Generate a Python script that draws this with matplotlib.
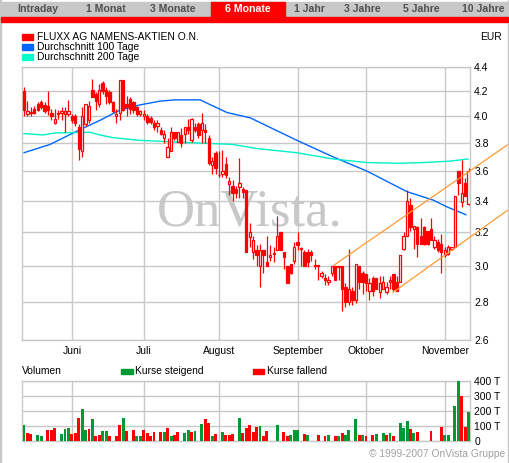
import numpy as np
import pandas as pd
import matplotlib
matplotlib.use("Agg")
import matplotlib.pyplot as plt
from matplotlib.patches import Rectangle
from matplotlib.ticker import NullLocator, FixedLocator, FixedFormatter

plt.rcParams['font.family'] = ['Liberation Sans', 'DejaVu Sans']

# Handelstage 14.05.2007 - 12.11.2007
days = pd.bdate_range('2007-05-14', '2007-11-12')
month_names = ['Juni', 'Juli', 'August', 'September', 'Oktober', 'November']

# Kurse (EUR), pro Handelstag, Monat fuer Monat
opens = [
    4.20, 4.02, 4.03, 4.06, 4.10, 4.11, 4.09, 4.08, 4.03, 3.95, 4.02, 4.03, 4.02, 4.02,
    4.00, 4.00, 3.92, 3.74, 3.94, 3.97, 4.21, 4.18, 4.10, 4.27, 4.21, 4.19, 4.11, 4.00, 4.03, 4.29, 4.10, 4.14, 4.11, 4.07, 4.02,
    4.00, 4.00, 3.99, 3.95, 3.93, 3.90, 3.84, 3.70, 3.74, 3.88, 3.81, 3.86, 3.87, 3.92, 3.82, 3.92, 3.94, 3.90, 3.90, 3.84, 3.64, 3.73,
    3.575, 3.58, 3.65, 3.51, 3.50, 3.48, 3.49, 3.48, 3.47, 3.17, 3.08, 3.09, 3.00, 3.09, 3.02, 3.05, 3.07, 3.09, 3.20, 3.08, 3.00, 3.01, 3.03,
    3.14, 3.10, 3.08, 3.08, 3.08, 3.00, 3.00, 2.94, 2.93, 2.91, 2.96, 3.00, 3.00, 3.00, 2.88, 2.80, 2.86, 2.81, 3.00, 2.96,
    2.95, 2.86, 2.93, 2.93, 2.85, 2.87, 2.85, 2.91, 2.95, 2.91, 2.91, 3.10, 3.18, 3.37, 3.22, 3.23, 3.18, 3.23, 3.21, 3.22, 3.11, 3.14, 3.13,
    3.06, 3.07, 3.10, 3.11, 3.60, 3.39, 3.52, 3.38,
]
highs = [
    4.23, 4.12, 4.07, 4.08, 4.11, 4.13, 4.11, 4.20, 4.06, 4.06, 4.05, 4.07, 4.07, 4.13,
    4.02, 4.02, 3.94, 4.07, 4.10, 4.12, 4.30, 4.19, 4.26, 4.28, 4.23, 4.21, 4.12, 4.06, 4.29, 4.29, 4.16, 4.15, 4.12, 4.08, 4.05,
    4.05, 4.02, 4.00, 3.97, 3.97, 3.92, 3.90, 3.84, 3.92, 3.88, 3.88, 3.91, 3.92, 3.98, 3.99, 3.95, 3.96, 4.03, 3.94, 3.86, 3.70, 3.74,
    3.74, 3.75, 3.70, 3.56, 3.54, 3.50, 3.69, 3.49, 3.47, 3.26, 3.18, 3.12, 3.13, 3.09, 3.18, 3.12, 3.11, 3.30, 3.20, 3.08, 3.00, 3.01, 3.14,
    3.20, 3.11, 3.09, 3.10, 3.09, 3.04, 3.00, 2.97, 2.95, 2.94, 3.00, 3.00, 3.00, 3.00, 2.90, 3.10, 2.88, 3.01, 3.00, 2.97,
    2.95, 2.93, 2.94, 2.93, 2.94, 2.94, 2.91, 2.94, 2.95, 2.94, 3.06, 3.20, 3.47, 3.42, 3.24, 3.24, 3.29, 3.24, 3.21, 3.29, 3.18, 3.16, 3.19,
    3.11, 3.12, 3.11, 3.43, 3.60, 3.68, 3.55, 3.62,
]
lows = [
    4.00, 4.00, 4.00, 4.02, 4.04, 4.06, 4.03, 4.01, 3.97, 3.94, 3.98, 3.97, 3.88, 4.00,
    3.95, 3.93, 3.68, 3.70, 3.93, 3.95, 4.15, 4.05, 4.07, 4.18, 4.10, 4.10, 4.03, 3.95, 3.97, 4.04, 4.00, 4.02, 4.03, 4.00, 4.00,
    3.97, 3.94, 3.94, 3.90, 3.88, 3.86, 3.80, 3.70, 3.74, 3.82, 3.81, 3.77, 3.80, 3.87, 3.81, 3.88, 3.84, 3.80, 3.80, 3.64, 3.58, 3.58,
    3.56, 3.56, 3.55, 3.44, 3.40, 3.42, 3.42, 3.42, 3.08, 3.11, 3.04, 3.00, 2.88, 2.96, 3.00, 3.03, 3.02, 3.09, 3.09, 2.98, 2.90, 2.95, 3.01,
    3.09, 3.00, 3.00, 2.99, 3.03, 2.98, 2.92, 2.93, 2.89, 2.89, 2.94, 2.92, 2.92, 2.75, 2.77, 2.78, 2.78, 2.79, 2.87, 2.84,
    2.86, 2.81, 2.83, 2.87, 2.82, 2.87, 2.84, 2.87, 2.86, 2.86, 2.91, 3.09, 3.18, 3.21, 3.10, 3.05, 3.13, 3.12, 3.12, 3.15, 3.10, 3.08, 2.96,
    3.05, 3.06, 3.09, 3.11, 3.44, 3.36, 3.43, 3.37,
]
closes = [
    4.05, 4.04, 4.03, 4.03, 4.05, 4.07, 4.04, 4.05, 4.00, 3.98, 4.02, 4.04, 4.04, 4.04,
    3.97, 3.95, 3.76, 4.00, 4.10, 4.08, 4.15, 4.12, 4.21, 4.20, 4.16, 4.11, 4.04, 4.02, 4.29, 4.05, 4.07, 4.06, 4.05, 4.02, 4.04,
    4.02, 3.96, 3.96, 3.92, 3.95, 3.87, 3.87, 3.77, 3.88, 3.84, 3.88, 3.80, 3.92, 3.90, 3.98, 3.90, 3.86, 3.95, 3.88, 3.66, 3.67, 3.62,
    3.57, 3.60, 3.57, 3.53, 3.45, 3.45, 3.52, 3.46, 3.08, 3.20, 3.15, 3.06, 3.09, 3.06, 3.00, 3.06, 3.07, 3.18, 3.09, 3.05, 2.90, 2.96, 3.11,
    3.12, 3.10, 3.00, 3.02, 3.06, 3.00, 3.00, 2.96, 2.92, 2.92, 3.00, 2.92, 2.99, 2.87, 2.80, 2.87, 2.81, 3.01, 2.91, 2.91,
    2.90, 2.90, 2.86, 2.87, 2.90, 2.91, 2.88, 2.91, 2.87, 2.86, 3.06, 3.18, 3.40, 3.23, 3.24, 3.13, 3.13, 3.13, 3.13, 3.15, 3.15, 3.09, 3.08,
    3.09, 3.11, 3.11, 3.43, 3.52, 3.45, 3.43, 3.60,
]

# gleitende Durchschnitte, Position in Handelstagen
ma100_day = [0, 7.6, 16.4, 22.2, 28.1, 33.9, 39.8, 44.2, 51.5, 53.8, 59.4, 66.1, 79.8, 90.4, 100.3, 112.0, 119.6, 123.7, 129.2]
ma100_val = [3.73, 3.79, 3.90, 3.97, 4.05, 4.09, 4.12, 4.13, 4.13, 4.10, 4.03, 3.99, 3.82, 3.70, 3.60, 3.46, 3.405, 3.36, 3.31]
ma200_day = [0, 5.6, 9.1, 19.3, 22.2, 26.0, 33.9, 51.5, 61.1, 68.1, 79.8, 90.4, 100.3, 109.1, 116.7, 124.6, 129.8]
ma200_val = [3.87, 3.86, 3.875, 3.88, 3.86, 3.84, 3.82, 3.80, 3.79, 3.76, 3.73, 3.685, 3.66, 3.655, 3.66, 3.67, 3.685]

# Trendkanal
trend_up_day = [90.4, 142.1]
trend_up_val = [3.00, 3.80]
trend_lo_day = [107.9, 142.1]
trend_lo_val = [2.85, 3.35]

# Umsatz in Tausend Stueck
vol_day = [0, 1, 2, 4, 5, 7, 8, 9, 11, 12, 13, 14, 15, 16, 17, 18, 19, 20, 21, 22, 23, 24, 25, 27, 28, 29, 30,
           32, 33, 34, 35, 36, 37, 38, 40, 41, 42, 43, 44, 45, 47, 48, 49, 50, 52, 53, 54, 55, 56, 58, 59, 60,
           61, 63, 64, 65, 66, 67, 68, 69, 70, 71, 74, 76, 77, 78, 79, 80, 82, 83, 86, 88, 89, 91, 92, 93, 94,
           95, 97, 98, 99, 100, 102, 103, 105, 106, 107, 108, 110, 111, 112, 113, 114, 115, 119, 122, 123, 124,
           126, 127, 128, 129, 130]
vol_val = [104, 51, 44, 38, 31, 71, 71, 84, 44, 78, 84, 44, 51, 151, 211, 71, 78, 144, 31, 38, 64, 64, 31, 31, 104, 151, 64,
           71, 36, 31, 71, 51, 31, 58, 58, 58, 84, 31, 38, 58, 51, 71, 58, 64, 111, 144, 118, 31, 44, 58, 38, 38,
           44, 151, 51, 84, 104, 60, 91, 98, 31, 64, 104, 58, 31, 38, 71, 71, 44, 38, 38, 31, 38, 31, 31, 51, 38,
           71, 144, 38, 38, 31, 38, 44, 51, 38, 51, 31, 118, 84, 131, 78, 51, 58, 64, 91, 38, 38,
           231, 398, 300, 91, 191]
vol_up = [1, 0, 0, 1, 1, 0, 0, 0, 1, 1, 1, 0, 0, 0, 1, 1, 0, 1, 0, 0, 1, 1, 0, 0, 0, 1, 0,
          0, 1, 1, 0, 0, 0, 0, 0, 1, 0, 1, 0, 0, 1, 1, 0, 1, 1, 0, 0, 1, 0, 1, 0, 0,
          0, 1, 0, 0, 0, 0, 0, 1, 0, 0, 1, 0, 0, 1, 1, 1, 0, 1, 0, 0, 1, 0, 1, 0, 1,
          1, 1, 0, 1, 0, 0, 1, 1, 0, 1, 0, 1, 1, 1, 0, 1, 0, 0, 0, 1, 1,
          1, 1, 0, 0, 1]

price_ticks = [2.6, 2.8, 3.0, 3.2, 3.4, 3.6, 3.8, 4.0, 4.2, 4.4]
vol_ticks = [0, 100, 200, 300, 400]
tabs = ['Intraday', '1 Monat', '3 Monate', '6 Monate', '1 Jahr', '3 Jahre', '5 Jahre', '10 Jahre']
tab_center = [37.5, 105.5, 173, 248, 309, 362.5, 421.5, 483]

RED = '#ff0000'
GREEN = '#009933'
BLUE = '#0066ff'
CYAN = '#00f0c8'
ORANGE = '#ff9933'
GRID = '#c8c8c8'

W, H = 510, 463


def fx(px):
    return px / W


def fy(py):
    return 1 - py / H


def main():
    fig = plt.figure(figsize=(W / 100, H / 100), dpi=100)

    # Rahmen und Reiter
    fig.patches.append(Rectangle((0, 0), fx(1.5), 1, transform=fig.transFigure, color=GRID, zorder=0))
    fig.patches.append(Rectangle((fx(508.5), 0), fx(1.5), 1, transform=fig.transFigure, color=GRID, zorder=0))
    fig.patches.append(Rectangle((fx(1.5), fy(17)), fx(507), 15 / H, transform=fig.transFigure, color=GRID, zorder=0))
    fig.patches.append(Rectangle((fx(211), fy(17)), fx(74), 15 / H, transform=fig.transFigure, color=RED, zorder=1))
    fig.patches.append(Rectangle((fx(1.5), fy(22)), fx(507), 5 / H, transform=fig.transFigure, color=RED, zorder=1))
    for name, cx in zip(tabs, tab_center):
        active = name == '6 Monate'
        fig.text(fx(cx), fy(9.5), name, ha='center', va='center', fontsize=7.6, fontweight='bold',
                 color='white' if active else '#505050')

    # Legende oben
    for i, (label, col) in enumerate([('FLUXX AG NAMENS-AKTIEN O.N.', RED),
                                      ('Durchschnitt 100 Tage', BLUE),
                                      ('Durchschnitt 200 Tage', '#00ffcc')]):
        yc = 36.5 + i * 10.5
        fig.patches.append(Rectangle((fx(22), fy(yc + 3)), fx(11), 6 / H, transform=fig.transFigure, color=col))
        fig.text(fx(37), fy(yc), label, ha='left', va='center', fontsize=7.4)
    fig.text(fx(502), fy(36.5), 'EUR', ha='right', va='center', fontsize=7.4)

    # Kurschart
    ax = fig.add_axes([fx(22), fy(340), fx(448), 273 / H])
    x = np.arange(len(days))
    o, h, l, c = map(np.array, (opens, highs, lows, closes))
    up = c >= o
    lo = np.minimum(o, c)
    bh = np.maximum(np.abs(c - o), 0.006)

    ax.vlines(x, l, h, color=RED, lw=0.9, zorder=3)
    ax.bar(x[up], bh[up], bottom=lo[up], width=0.68, color='white', edgecolor=RED, lw=0.9, zorder=4)
    ax.bar(x[~up], bh[~up], bottom=lo[~up], width=0.68, color=RED, edgecolor=RED, lw=0.9, zorder=4)

    ax.plot(ma100_day, ma100_val, color=BLUE, lw=1.0, zorder=2)
    ax.plot(ma200_day, ma200_val, color=CYAN, lw=1.0, zorder=2)
    ax.plot(trend_up_day, trend_up_val, color=ORANGE, lw=0.9, zorder=5, clip_on=False)
    ax.plot(trend_lo_day, trend_lo_val, color=ORANGE, lw=0.9, zorder=5, clip_on=False)

    ax.text(0.301, 0.421, 'OnVista.', transform=ax.transAxes, ha='left', va='baseline',
            fontsize=38, family='Liberation Serif', color=GRID, zorder=1)

    month_pos = [i for i in range(1, len(days)) if days[i].month != days[i - 1].month]

    ax.set_yscale('log')
    ax.set_ylim(2.6, 4.4)
    ax.set_xlim(-0.58, 130.4)
    ax.yaxis.set_major_locator(FixedLocator(price_ticks))
    ax.yaxis.set_major_formatter(FixedFormatter(['%.1f' % t for t in price_ticks]))
    ax.yaxis.set_minor_locator(NullLocator())
    ax.yaxis.tick_right()
    ax.set_xticks(month_pos)
    ax.set_xticklabels(month_names)
    ax.tick_params(length=0, labelsize=7.5, colors='black')
    ax.tick_params(axis='y', pad=3)
    ax.tick_params(axis='x', pad=4)
    ax.grid(True, color=GRID, lw=1.0)
    ax.set_axisbelow(True)
    for s in ax.spines.values():
        s.set_color(GRID)
        s.set_linewidth(1.0)

    # Umsatz
    fig.text(fx(22), fy(371), 'Volumen', ha='left', va='center', fontsize=7.4)
    fig.patches.append(Rectangle((fx(121), fy(374)), fx(12), 5 / H, transform=fig.transFigure, color=GREEN))
    fig.text(fx(135), fy(371), 'Kurse steigend', ha='left', va='center', fontsize=7.4)
    fig.patches.append(Rectangle((fx(253), fy(374)), fx(11), 5 / H, transform=fig.transFigure, color=RED))
    fig.text(fx(267), fy(371), 'Kurse fallend', ha='left', va='center', fontsize=7.4)

    axv = fig.add_axes([fx(22), fy(441), fx(448), 60 / H])
    vcol = [GREEN if u else RED for u in vol_up]
    axv.bar(vol_day, vol_val, width=0.85, color=vcol, zorder=3)
    axv.set_xlim(-0.58, 130.4)
    axv.set_ylim(0, 400)
    axv.set_yticks(vol_ticks)
    axv.set_yticklabels(['0' if t == 0 else '%d T' % t for t in vol_ticks])
    axv.yaxis.tick_right()
    axv.set_xticks(month_pos)
    axv.set_xticklabels([])
    axv.tick_params(length=0, labelsize=7.5, pad=3)
    axv.grid(True, color=GRID, lw=1.0)
    axv.set_axisbelow(True)
    for s in axv.spines.values():
        s.set_color(GRID)
        s.set_linewidth(1.0)

    fig.text(fx(505), fy(454), '\u00a9 1999-2007 OnVista Gruppe', ha='right', va='center',
             fontsize=7.4, color='#a0a0a0')

    fig.savefig('out.png', dpi=100)


if __name__ == '__main__':
    main()
